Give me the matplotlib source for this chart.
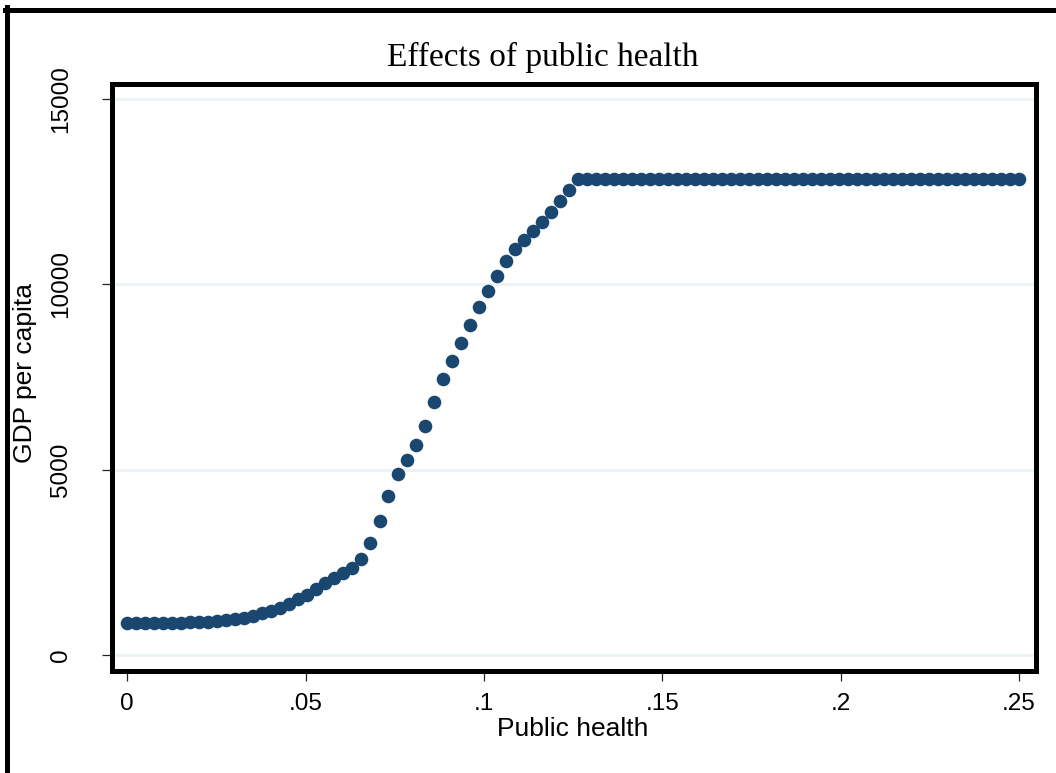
import matplotlib
matplotlib.use("Agg")
import matplotlib.pyplot as plt
from matplotlib.lines import Line2D

# ---- data ----
public_health = [
    0.00000, 0.00253, 0.00505, 0.00758, 0.01010, 0.01263, 0.01515, 0.01768, 0.02020, 0.02273,
    0.02525, 0.02778, 0.03030, 0.03283, 0.03535, 0.03788, 0.04040, 0.04293, 0.04545, 0.04798,
    0.05051, 0.05303, 0.05556, 0.05808, 0.06061, 0.06313, 0.06566, 0.06818, 0.07071, 0.07323,
    0.07576, 0.07828, 0.08081, 0.08333, 0.08586, 0.08838, 0.09091, 0.09343, 0.09596, 0.09848,
    0.10101, 0.10354, 0.10606, 0.10859, 0.11111, 0.11364, 0.11616, 0.11869, 0.12121, 0.12374,
    0.12626, 0.12879, 0.13131, 0.13384, 0.13636, 0.13889, 0.14141, 0.14394, 0.14646, 0.14899,
    0.15152, 0.15404, 0.15657, 0.15909, 0.16162, 0.16414, 0.16667, 0.16919, 0.17172, 0.17424,
    0.17677, 0.17929, 0.18182, 0.18434, 0.18687, 0.18939, 0.19192, 0.19444, 0.19697, 0.19949,
    0.20202, 0.20455, 0.20707, 0.20960, 0.21212, 0.21465, 0.21717, 0.21970, 0.22222, 0.22475,
    0.22727, 0.22980, 0.23232, 0.23485, 0.23737, 0.23990, 0.24242, 0.24495, 0.24747, 0.25000,
]
gdp_rising = [
    855, 855, 856, 857, 858, 860, 870, 880, 890, 900,
    917, 935, 970, 1000, 1050, 1125, 1195, 1270, 1375, 1500,
    1630, 1780, 1935, 2085, 2210, 2340, 2580, 3010, 3605, 4300,
    4875, 5270, 5675, 6185, 6825, 7455, 7930, 8410, 8895, 9380,
    9820, 10225, 10620, 10950, 11195, 11440, 11680, 11950, 12240, 12535,
]
gdp_plateau = [12840] * 50
gdp_per_capita = gdp_rising + gdp_plateau

x_ticks = [0, 0.05, 0.10, 0.15, 0.20, 0.25]
x_tick_labels = ["0", ".05", ".1", ".15", ".2", ".25"]
y_ticks = [0, 5000, 10000, 15000]
y_tick_labels = ["0", "5000", "10000", "15000"]

title = "Effects of public health"
x_label = "Public health"
y_label = "GDP per capita"

# ---- figure ----
W, H = 1056, 773
fig = plt.figure(figsize=(W / 100, H / 100), dpi=100)
fig.patch.set_facecolor("white")

def fx(px):
    return px / W

def fy(py):
    return 1 - py / H

left, right, top, bottom = 111.5, 1035.5, 84.0, 670.5
ax = fig.add_axes([fx(left), fy(bottom), fx(right) - fx(left), fy(top) - fy(bottom)])

navy = "#1a476f"
ax.plot(public_health, gdp_per_capita, linestyle="none", marker="o",
        markersize=9.8, color=navy, markeredgewidth=0, zorder=3)

ax.set_xlim(-0.00443, 0.25463)
ax.set_ylim(-418, 15404)

ax.set_xticks(x_ticks)
ax.set_xticklabels(x_tick_labels)
ax.set_yticks(y_ticks)
ax.set_yticklabels(y_tick_labels)

sans = ["Liberation Sans", "DejaVu Sans"]
ax.tick_params(axis="both", direction="out", length=7.2, width=0.9,
               color="#222222", labelsize=17.5)
ax.tick_params(axis="x", pad=9)
ax.tick_params(axis="y", pad=21, labelrotation=90)
for lab in ax.get_xticklabels():
    lab.set_fontfamily(sans)
for lab in ax.get_yticklabels():
    lab.set_fontfamily(sans)
    lab.set_verticalalignment("center")

ax.yaxis.grid(True, color="#eaf2f3", linewidth=1.9, zorder=0)
ax.xaxis.grid(False)
ax.set_axisbelow(True)

for s in ax.spines.values():
    s.set_linewidth(3.6)
    s.set_color("black")

ax.set_xlabel(x_label, fontsize=19, fontfamily=sans)
ax.xaxis.set_label_coords(0.499, (bottom - 717) / (bottom - top))
ax.xaxis.label.set_verticalalignment("top")
ax.set_ylabel(y_label, fontsize=19, fontfamily=sans)
ax.yaxis.set_label_coords((37 - left) / (right - left), (bottom - 373) / (bottom - top))

fig.text(fx(542.5), fy(57), title, fontsize=24, ha="center", va="center",
         fontfamily=["Liberation Serif", "DejaVu Serif"])

# outer graph frame (cropped on right and bottom)
fig.add_artist(Line2D([fx(6.5), fx(6.5)], [fy(7), fy(H + 20)],
                      transform=fig.transFigure, color="black", linewidth=3.6))
fig.add_artist(Line2D([fx(4.7), fx(W + 20)], [fy(9.5), fy(9.5)],
                      transform=fig.transFigure, color="black", linewidth=3.6))

fig.savefig("out.png", dpi=100, facecolor="white")
